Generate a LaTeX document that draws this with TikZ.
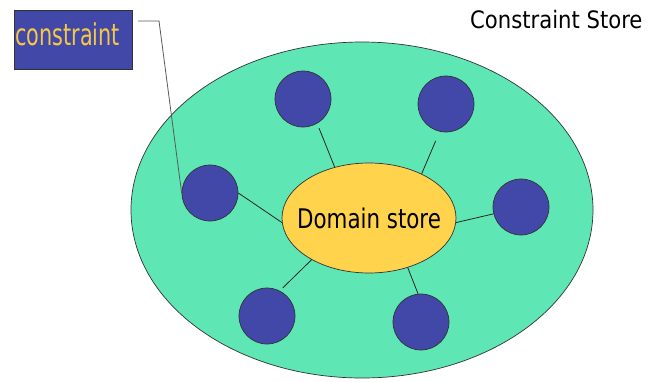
\documentclass[tikz,border=0pt]{standalone}
\usepackage{fontspec}
\usetikzlibrary{shapes.geometric}
\setmainfont{DejaVu Sans Condensed}
\definecolor{storegreen}{RGB}{94,230,180}
\definecolor{domyellow}{RGB}{255,211,76}
\definecolor{varblue}{RGB}{66,72,168}
\definecolor{labelgold}{RGB}{245,200,70}
\tikzset{
  var/.style={circle, draw=black!80, fill=varblue, minimum size=56pt, inner sep=0pt, line width=0.7pt},
  link/.style={draw=black!85, line width=0.8pt},
  txt/.style={inner sep=0pt, anchor=base west},
}
\begin{document}
\begin{tikzpicture}[x=1pt,y=-1pt]
\useasboundingbox (0,0) rectangle (654,381);
% outer constraint store
\node[ellipse, draw=black!80, fill=storegreen, minimum width=462pt, minimum height=336pt, inner sep=0pt, line width=0.7pt] (store) at (362,210) {};
% constraint variables
\node[var] (v1) at (303,99) {};
\node[var] (v2) at (446,104) {};
\node[var] (v3) at (210,193) {};
\node[var] (v4) at (521,207) {};
\node[var] (v5) at (267,316) {};
\node[var] (v6) at (421,322) {};
% domain store
\node[ellipse, draw=black!80, fill=domyellow, minimum width=174pt, minimum height=110pt, inner sep=0pt, line width=0.7pt] (dom) at (369,218) {};
\node[txt, font=\fontsize{27}{30}\selectfont] (domtext) at (297,228) {\scalebox{0.88}[1]{Domain store}};
% links between the domain store and the variables
\draw[link, shorten >=5pt] (dom.124) -- (v1.-60);
\draw[link, shorten >=10pt] (dom.40) -- (v2.-103);
\draw[link] (dom.183) -- (v3.0);
\draw[link] (dom.-3) -- (v4.194);
\draw[link, shorten >=4pt] (dom.216) -- (v5.63);
\draw[link] (dom.-52) -- (v6.96);
% label box
\node[draw=black!80, fill=varblue, minimum width=118pt, minimum height=59pt, inner sep=0pt, anchor=north west, line width=0.7pt] (lab) at (14,10) {};
\node[txt, text=labelgold, font=\fontsize{30}{34}\selectfont] (labtext) at (15,45) {\scalebox{0.77}[1]{constraint}};
\coordinate (tail) at (138,21);
\coordinate (bend) at (159,21);
\draw[draw=black!65, line width=0.8pt] (tail) -- (bend) -- (v3.west);
% title
\node[txt, font=\fontsize{24}{28}\selectfont] (title) at (470,28) {\scalebox{0.98}[1]{Constraint Store}};
\end{tikzpicture}
\end{document}
